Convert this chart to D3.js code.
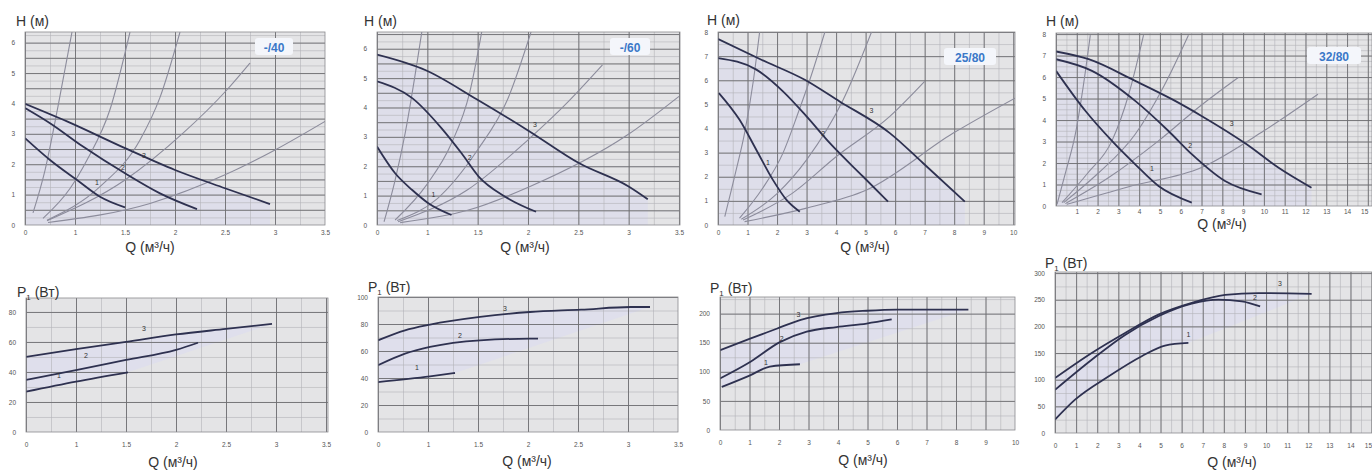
<!DOCTYPE html>
<html>
<head>
<meta charset="utf-8">
<script src="https://cdn.jsdelivr.net/npm/d3@7"></script>
<style>
  body { margin: 0; background: #fff; }
  svg { display: block; font-family: "Liberation Sans", Arial, sans-serif; }
  .tick-lbl text { font-size: 6.5px; fill: #555; }
  .tick-lbl path, .tick-lbl line { display: none; }
  .grid path { display: none; }
  .ttl { font-size: 14px; fill: #333; }
  .tag { font-size: 12px; font-weight: bold; fill: #3a78c8; }
  .cl { font-size: 7px; fill: #333; }
</style>
</head>
<body>
<svg id="chart" width="1372" height="470"></svg>
<script>
// ---- data ----
// tick labels
const qLabelsSmall = ["0", "1", "1.5", "2", "2.5", "3", "3.5"];
const qLabels10 = ["0", "1", "2", "3", "4", "5", "6", "7", "8", "9", "10"];
const qLabels15 = ["1", "2", "3", "4", "5", "6", "7", "8", "9", "10", "11", "12", "13", "14", "15"];
const qLabels15z = ["0", "1", "2", "3", "4", "5", "6", "7", "8", "9", "10", "11", "12", "13", "14", "15"];

// -/40 head curves (Q, H)
const h40Speed1 = [[0, 2.86], [0.25, 2.14], [0.52, 1.48], [0.75, 0.93], [1.0, 0.58]];
const h40Speed2 = [[0, 3.85], [0.25, 3.35], [0.58, 2.58], [1.0, 1.70], [1.35, 1.04], [1.72, 0.52]];
const h40Speed3 = [[0, 3.99], [0.42, 3.41], [1.0, 2.53], [1.5, 1.81], [2.0, 1.21], [2.45, 0.69]];
const h40System = [
  [[0.08, 0.4], [0.2, 1.8], [0.33, 3.9], [0.47, 6.35]],
  [[0.18, 0.22], [0.45, 1.2], [0.62, 2.14], [0.85, 3.8], [1.05, 6.35]],
  [[0.22, 0.16], [0.75, 1.26], [1.15, 2.8], [1.35, 4.2], [1.55, 6.35]],
  [[0.22, 0.14], [1.0, 1.48], [1.58, 3.02], [2.02, 4.45], [2.25, 5.33]],
  [[0.23, 0.08], [1.25, 0.71], [2.0, 1.65], [2.5, 2.47], [3.0, 3.41]]
];
const h40Tags = [[0.72, 1.32, "1"], [0.98, 1.81, "2"], [1.19, 2.2, "3"]];

// -/60 head curves
const h60Speed1 = [[0, 2.67], [0.18, 1.76], [0.35, 1.19], [0.51, 0.74], [0.74, 0.34]];
const h60Speed2 = [[0, 4.89], [0.35, 4.32], [0.64, 3.30], [0.84, 2.44], [1.01, 1.65], [1.27, 0.97], [1.58, 0.45]];
const h60Speed3 = [[0, 5.80], [0.49, 5.26], [0.99, 4.28], [1.5, 3.22], [2.01, 2.10], [2.5, 1.31], [2.69, 0.875]];
const h60System = [
  [[0.07, 0.11], [0.18, 1.53], [0.28, 3.13], [0.445, 6.57]],
  [[0.18, 0.17], [0.5, 1.4], [0.74, 2.78], [0.92, 4.5], [1.04, 6.57]],
  [[0.2, 0.15], [0.6, 0.9], [1.0, 2.56], [1.3, 4.3], [1.53, 6.57]],
  [[0.21, 0.11], [0.9, 1.2], [1.5, 2.9], [1.9, 4.2], [2.24, 5.45]],
  [[0.23, 0.08], [0.9, 0.5], [1.52, 1.31], [2.49, 3.07], [3.0, 4.38]]
];
const h60Tags = [[0.56, 0.97, "1"], [0.92, 2.22, "2"], [1.57, 3.35, "3"]];

// 25/80 head curves
const h2580Speed1 = [[0.03, 5.47], [0.73, 4.36], [1.3, 3.11], [1.86, 1.87], [2.32, 1.04], [2.77, 0.55]];
const h2580Speed2 = [[0, 6.92], [1.3, 6.44], [2.2, 5.54], [3.0, 4.5], [3.79, 3.39], [4.92, 2.0], [5.76, 0.97]];
const h2580Speed3 = [[0, 7.71], [1.47, 6.85], [2.94, 6.02], [4.12, 5.12], [5.82, 3.81], [6.95, 2.56], [8.36, 0.97]];
const h2580System = [
  [[0.23, 0.35], [0.6, 2.2], [0.9, 3.81], [1.2, 6.0], [1.41, 8.0]],
  [[0.73, 0.28], [1.5, 1.5], [2.2, 2.98], [2.7, 4.6], [3.11, 6.02], [3.62, 8.0]],
  [[0.79, 0.24], [2.0, 1.3], [3.0, 2.7], [4.24, 5.19], [5.2, 8.0]],
  [[0.85, 0.21], [2.5, 1.3], [4.01, 2.84], [5.82, 4.5], [7.0, 5.95]],
  [[0.9, 0.14], [3.0, 0.7], [5.03, 1.45], [7.97, 3.81], [10.06, 5.26]]
];
const h2580Tags = [[1.69, 2.49, "1"], [3.56, 3.67, "2"], [5.2, 4.64, "3"]];

// 32/80 head curves
const h3280Speed1 = [[0, 6.29], [1.41, 4.43], [2.69, 3.03], [3.81, 1.94], [4.93, 0.93], [6.53, 0.16]];
const h3280Speed2 = [[0, 6.83], [1.73, 6.29], [3.81, 4.89], [5.41, 3.49], [6.53, 2.41], [8.13, 1.16], [9.89, 0.54]];
const h3280Speed3 = [[0, 7.19], [1.57, 6.83], [3.81, 5.82], [5.73, 4.89], [7.0, 4.19], [9.17, 2.87], [10.69, 1.79], [12.29, 0.85]];
const h3280System = [
  [[0.05, 0.08], [0.5, 1.7], [0.93, 3.34], [1.3, 5.5], [1.65, 7.95]],
  [[0.29, 0.16], [1.5, 1.5], [2.69, 3.03], [3.5, 5.2], [4.21, 7.95]],
  [[0.37, 0.16], [2.0, 1.5], [3.81, 3.34], [5.2, 5.6], [6.37, 7.95]],
  [[0.45, 0.11], [2.5, 1.3], [4.93, 3.03], [7.0, 4.7], [8.77, 5.98]],
  [[0.53, 0.08], [3.5, 0.9], [7.0, 1.79], [10.0, 3.5], [12.6, 5.2]]
];
const h3280Tags = [[4.61, 1.63, "1"], [6.45, 2.72, "2"], [8.45, 3.73, "3"]];

// power curves (Q, P1)
const p40Speed1 = [[0, 26.9], [0.5, 33.6], [1.02, 39.8]];
const p40Speed2 = [[0, 34.7], [0.5, 41.3], [1.0, 48], [1.5, 54.7], [1.72, 59.5]];
const p40Speed3 = [[0, 50], [0.5, 55.3], [1.0, 60], [1.5, 65], [2.0, 68.7], [2.46, 72]];
const p40Tags = [[0.33, 36, "1"], [0.6, 49, "2"], [1.18, 67, "3"]];

const p60Speed1 = [[0, 37], [0.52, 41.2], [0.77, 43.7]];
const p60Speed2 = [[0, 49.4], [0.27, 58], [0.52, 63], [1.02, 67.9], [1.52, 69.1], [1.6, 69.1]];
const p60Speed3 = [[0, 67.9], [0.27, 75.3], [0.52, 79.5], [1.02, 85.2], [1.52, 88.9], [2.03, 90.6], [2.53, 92.6], [2.72, 92.6]];
const p60Tags = [[0.39, 45.7, "1"], [0.82, 69.5, "2"], [1.27, 89.5, "3"]];

const p2580Speed1 = [[0.06, 74], [1.02, 94], [1.69, 109], [2.71, 113]];
const p2580Speed2 = [[0, 88.6], [1.02, 117], [2.03, 151], [2.94, 169], [3.95, 177], [4.97, 183], [5.82, 190]];
const p2580Speed3 = [[0, 137], [1.02, 157], [1.92, 174], [2.71, 189], [3.95, 201], [4.97, 205], [5.99, 207], [8.42, 207]];
const p2580Tags = [[1.56, 111, "1"], [2.09, 153, "2"], [2.66, 194, "3"]];

const p3280Speed1 = [[0, 25], [0.95, 62.5], [2.53, 106], [4.11, 144], [5.21, 164], [6.32, 169]];
const p3280Speed2 = [[0, 81], [1.74, 137.5], [3.32, 184], [4.9, 219], [6.48, 242.5], [7.74, 250], [8.85, 247], [9.72, 237.5]];
const p3280Speed3 = [[0, 103], [1.74, 150], [3.32, 187.5], [4.9, 222], [6.48, 244], [8.06, 259], [9.64, 262.5], [12.16, 261]];
const p3280Tags = [[6.32, 181, "1"], [9.48, 250, "2"], [10.66, 275, "3"]];

// ---- layout ----
const svg = d3.select("#chart");
let clipId = 0;

function drawPanel(p) {
  const x = d3.scaleLinear().domain(p.xDomain).range(p.xRange);
  const y = d3.scaleLinear().domain(p.yDomain).range(p.yRange);
  const w = p.xRange[1] - p.xRange[0];
  const h = p.yRange[0] - p.yRange[1];
  const g = svg.append("g");
  const id = "clip" + (clipId++);

  g.append("clipPath").attr("id", id)
    .append("rect")
    .attr("x", p.xRange[0]).attr("y", p.yRange[1])
    .attr("width", w).attr("height", h);

  g.append("rect")
    .attr("x", p.xRange[0]).attr("y", p.yRange[1])
    .attr("width", w).attr("height", h)
    .attr("fill", "#e4e4e6");

  const plot = g.append("g").attr("clip-path", "url(#" + id + ")");

  // faint lavender tint near the curves
  const line = d3.line().x(d => x(d[0])).y(d => y(d[1])).curve(d3.curveMonotoneX);
  if (p.tint === "under") {
    const area = d3.area().x(d => x(d[0])).y0(y(p.yDomain[0])).y1(d => y(d[1])).curve(d3.curveMonotoneX);
    plot.append("path").datum(p.curves[2]).attr("d", area).attr("fill", "#dedeea");
  } else {
    const top = p.curves[2], low = p.curves[0];
    const band = top.concat(low.slice().reverse());
    plot.append("path").datum(band)
      .attr("d", d3.line().x(d => x(d[0])).y(d => y(d[1])))
      .attr("fill", "#dfdfec");
  }

  // grid from axes
  const xs = p.xDomain, ys = p.yDomain;
  function gridX(step, color, width) {
    plot.append("g").attr("class", "grid")
      .attr("transform", "translate(0," + p.yRange[0] + ")")
      .call(d3.axisBottom(x).tickValues(d3.range(xs[0], xs[1] + 1e-6, step)).tickSize(-h).tickFormat(""))
      .selectAll("line").attr("stroke", color).attr("stroke-width", width);
  }
  function gridY(step, color, width) {
    plot.append("g").attr("class", "grid")
      .attr("transform", "translate(" + p.xRange[0] + ",0)")
      .call(d3.axisLeft(y).tickValues(d3.range(ys[0], ys[1] + 1e-6, step)).tickSize(-w).tickFormat(""))
      .selectAll("line").attr("stroke", color).attr("stroke-width", width);
  }
  if (p.xMinor) gridX(p.xMinor, "#b4b4b8", 0.6);
  if (p.yMinor) gridY(p.yMinor, "#b4b4b8", 0.6);
  gridX(p.xMajor, "#6e6e72", 0.9);
  gridY(p.yMajor, "#6e6e72", 0.9);

  // system curves
  (p.system || []).forEach(s => {
    plot.append("path").datum(s).attr("d", line)
      .attr("fill", "none").attr("stroke", "#8c8c9c").attr("stroke-width", 1.1);
  });

  // pump curves
  p.curves.forEach(c => {
    plot.append("path").datum(c).attr("d", line)
      .attr("fill", "none").attr("stroke", "#2e3150").attr("stroke-width", 1.8);
  });

  p.tags.forEach(t => {
    plot.append("text").attr("class", "cl")
      .attr("x", x(t[0])).attr("y", y(t[1]))
      .attr("text-anchor", "middle").text(t[2]);
  });

  // frame
  g.append("rect")
    .attr("x", p.xRange[0]).attr("y", p.yRange[1])
    .attr("width", w).attr("height", h)
    .attr("fill", "none").attr("stroke", "#8a8a8e").attr("stroke-width", 0.8);

  // tick labels
  const xl = g.append("g").attr("class", "tick-lbl")
    .attr("transform", "translate(0," + p.yRange[0] + ")")
    .call(d3.axisBottom(x).tickValues(p.xTicks).tickSize(0).tickPadding(p.xPad || 10)
      .tickFormat((d, i) => p.xLabels[i]));
  if (p.lastEnd) xl.selectAll(".tick:last-of-type text").attr("text-anchor", "end");
  g.append("g").attr("class", "tick-lbl")
    .attr("transform", "translate(" + p.xRange[0] + ",0)")
    .call(d3.axisLeft(y).tickValues(p.yTicks).tickSize(0).tickPadding(p.yPad || 10)
      .tickFormat(d3.format("d")));

  // titles
  const yt = g.append("text").attr("class", "ttl").attr("x", p.yTitle[0]).attr("y", p.yTitle[1]);
  if (p.power) {
    yt.append("tspan").text("P");
    yt.append("tspan").attr("font-size", 8).attr("dy", 3).text("1");
    yt.append("tspan").attr("dy", -3).text(" (Вт)");
  } else {
    yt.text("H (м)");
  }
  g.append("text").attr("class", "ttl").attr("text-anchor", "middle")
    .attr("x", p.xTitle[0]).attr("y", p.xTitle[1]).text("Q (м³/ч)");

  if (p.tag) {
    const tg = g.append("g");
    tg.append("rect")
      .attr("x", p.tag[0] - p.tag[3] / 2).attr("y", p.tag[1] - 10)
      .attr("width", p.tag[3]).attr("height", 17).attr("rx", 3)
      .attr("fill", "#f4f6fb");
    tg.append("text").attr("class", "tag").attr("text-anchor", "middle")
      .attr("x", p.tag[0]).attr("y", p.tag[1] + 4).text(p.tag[2]);
  }
}

const halfTicks = d3.range(0, 3.01, 0.5);

const panels = [
  { xDomain: [0, 3], xRange: [25, 325], yDomain: [0, 6.35], yRange: [225, 32],
    xMajor: 0.5, xMinor: 0.25, yMajor: 0.5, yMinor: 0.25, xPad: 5,
    xTicks: halfTicks, xLabels: qLabelsSmall, yTicks: d3.range(0, 7),
    curves: [h40Speed1, h40Speed2, h40Speed3], system: h40System, tags: h40Tags, tint: "under",
    yTitle: [16, 26], xTitle: [150, 252], tag: [274, 48, "-/40", 38] },
  { xDomain: [0, 3.01], xRange: [377, 680], yDomain: [0, 6.57], yRange: [225, 32],
    xMajor: 0.5, xMinor: 0.25, yMajor: 0.5, yMinor: 0.25, xPad: 5,
    xTicks: halfTicks, xLabels: qLabelsSmall, yTicks: d3.range(0, 7),
    curves: [h60Speed1, h60Speed2, h60Speed3], system: h60System, tags: h60Tags, tint: "under",
    yTitle: [364, 26], xTitle: [525, 252], tag: [630, 48, "-/60", 40] },
  { xDomain: [0, 10.06], xRange: [718, 1015], yDomain: [0, 8], yRange: [225, 32],
    xMajor: 1, xMinor: 0.5, yMajor: 1, yMinor: 0.5, xPad: 5,
    xTicks: d3.range(0, 11), xLabels: qLabels10, yTicks: d3.range(0, 9),
    curves: [h2580Speed1, h2580Speed2, h2580Speed3], system: h2580System, tags: h2580Tags, tint: "under",
    yTitle: [707, 25], xTitle: [865, 252], tag: [970, 58, "25/80", 52] },
  { xDomain: [0, 15.2], xRange: [1056, 1372], yDomain: [0, 8.05], yRange: [206, 33],
    xMajor: 1, xMinor: 0.5, yMajor: 1, yMinor: 0.25, xPad: 3,
    xTicks: d3.range(1, 16), xLabels: qLabels15, yTicks: d3.range(0, 9), lastEnd: true,
    curves: [h3280Speed1, h3280Speed2, h3280Speed3], system: h3280System, tags: h3280Tags, tint: "under",
    yTitle: [1046, 26], xTitle: [1222, 229], tag: [1334, 57, "32/80", 54] },
  { xDomain: [0, 3.02], xRange: [26, 328], yDomain: [0, 89.3], yRange: [432, 298],
    xMajor: 0.5, xMinor: 0.25, yMajor: 20, yMinor: 10,
    xTicks: halfTicks, xLabels: qLabelsSmall, yTicks: d3.range(0, 81, 20),
    curves: [p40Speed1, p40Speed2, p40Speed3], tags: p40Tags, power: true,
    yTitle: [17, 297], xTitle: [173, 467] },
  { xDomain: [0, 3], xRange: [378, 678], yDomain: [0, 100], yRange: [432, 297],
    xMajor: 0.5, xMinor: 0.25, yMajor: 20, yMinor: 10,
    xTicks: halfTicks, xLabels: qLabelsSmall, yTicks: d3.range(0, 101, 20),
    curves: [p60Speed1, p60Speed2, p60Speed3], tags: p60Tags, power: true,
    yTitle: [368, 292], xTitle: [527, 466] },
  { xDomain: [0, 10], xRange: [720, 1015], yDomain: [0, 228.6], yRange: [430, 297],
    xMajor: 1, xMinor: 0.5, yMajor: 50, yMinor: 25,
    xTicks: d3.range(0, 11), xLabels: qLabels10, yTicks: d3.range(0, 201, 50),
    curves: [p2580Speed1, p2580Speed2, p2580Speed3], tags: p2580Tags, power: true,
    yTitle: [710, 293], xTitle: [863, 465] },
  { xDomain: [0, 15.02], xRange: [1055, 1372], yDomain: [0, 302], yRange: [433, 272],
    xMajor: 1, xMinor: 0.5, yMajor: 50, yMinor: 25, lastEnd: true,
    xTicks: d3.range(0, 16), xLabels: qLabels15z, yTicks: d3.range(0, 301, 50),
    curves: [p3280Speed1, p3280Speed2, p3280Speed3], tags: p3280Tags, power: true,
    yTitle: [1045, 268], xTitle: [1232, 467] }
];

panels.forEach(drawPanel);
</script>
</body>
</html>
